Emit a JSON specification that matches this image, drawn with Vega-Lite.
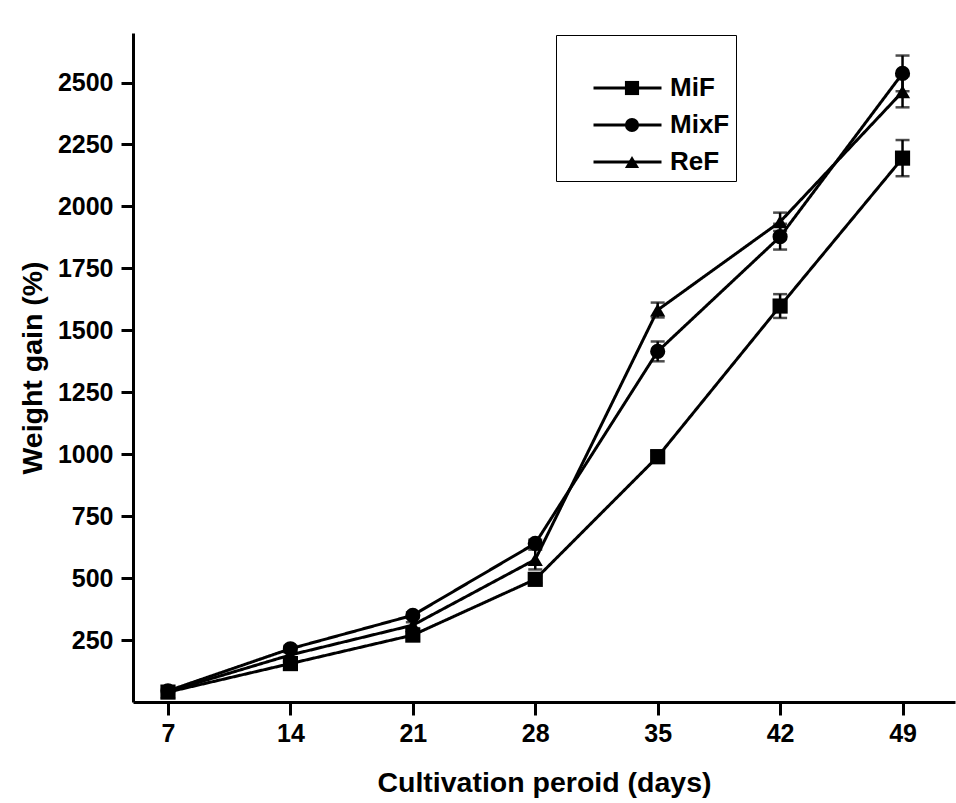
{
  "$schema": "https://vega.github.io/schema/vega-lite/v6.json",
  "width": 822,
  "height": 669,
  "autosize": {"type": "none"},
  "padding": {"left": 133, "top": 33, "right": 1, "bottom": 101},
  "background": "white",
  "config": {
    "view": {"stroke": null},
    "font": "Liberation Sans",
    "axis": {
      "grid": false,
      "domainColor": "black",
      "domainWidth": 3,
      "tickColor": "black",
      "tickWidth": 3,
      "labelFont": "Liberation Sans",
      "labelFontWeight": "bold",
      "labelColor": "black",
      "labelFontSize": 25,
      "titleFont": "Liberation Sans",
      "titleFontWeight": "bold",
      "titleColor": "black",
      "titleFontSize": 28.5
    }
  },
  "data": {
    "values": [
      {"day": 7, "group": "MiF", "gain": 40, "lo": 35, "hi": 45},
      {"day": 7, "group": "MixF", "gain": 45, "lo": 40, "hi": 50},
      {"day": 7, "group": "ReF", "gain": 42, "lo": 37, "hi": 47},
      {"day": 14, "group": "MiF", "gain": 155, "lo": 145, "hi": 165},
      {"day": 14, "group": "MixF", "gain": 215, "lo": 203, "hi": 227},
      {"day": 14, "group": "ReF", "gain": 190, "lo": 180, "hi": 200},
      {"day": 21, "group": "MiF", "gain": 270, "lo": 258, "hi": 282},
      {"day": 21, "group": "MixF", "gain": 350, "lo": 338, "hi": 362},
      {"day": 21, "group": "ReF", "gain": 310, "lo": 298, "hi": 322},
      {"day": 28, "group": "MiF", "gain": 495, "lo": 480, "hi": 510},
      {"day": 28, "group": "MixF", "gain": 640, "lo": 625, "hi": 655},
      {"day": 28, "group": "ReF", "gain": 575, "lo": 535, "hi": 615},
      {"day": 35, "group": "MiF", "gain": 990, "lo": 965, "hi": 1015},
      {"day": 35, "group": "MixF", "gain": 1415, "lo": 1375, "hi": 1455},
      {"day": 35, "group": "ReF", "gain": 1582, "lo": 1552, "hi": 1612},
      {"day": 42, "group": "MiF", "gain": 1598, "lo": 1550, "hi": 1646},
      {"day": 42, "group": "MixF", "gain": 1878, "lo": 1826, "hi": 1930},
      {"day": 42, "group": "ReF", "gain": 1938, "lo": 1901, "hi": 1975},
      {"day": 49, "group": "MiF", "gain": 2195, "lo": 2122, "hi": 2268},
      {"day": 49, "group": "MixF", "gain": 2537, "lo": 2465, "hi": 2609},
      {"day": 49, "group": "ReF", "gain": 2463, "lo": 2400, "hi": 2526}
    ]
  },
  "encoding": {
    "x": {
      "field": "day",
      "type": "quantitative",
      "scale": {"domain": [5, 52], "nice": false, "zero": false},
      "axis": {
        "values": [7, 14, 21, 28, 35, 42, 49],
        "format": "d",
        "tickSize": 13,
        "labelPadding": 6,
        "titlePadding": 22,
        "title": "Cultivation peroid (days)"
      }
    }
  },
  "layer": [
    {
      "mark": {
        "type": "errorbar",
        "ticks": {"size": 14, "thickness": 2.5, "color": "black"},
        "rule": {"strokeWidth": 2.5, "color": "black"}
      },
      "encoding": {
        "y": {
          "field": "lo",
          "type": "quantitative",
          "scale": {"domain": [0, 2700], "nice": false},
          "title": "Weight gain (%)"
        },
        "y2": {"field": "hi"},
        "detail": {"field": "group"}
      }
    },
    {
      "mark": {"type": "line", "color": "black", "strokeWidth": 3},
      "encoding": {
        "y": {
          "field": "gain",
          "type": "quantitative",
          "scale": {"domain": [0, 2700], "nice": false},
          "axis": {
            "values": [250, 500, 750, 1000, 1250, 1500, 1750, 2000, 2250, 2500],
            "format": "d",
            "tickSize": 12,
            "labelPadding": 8,
            "titlePadding": 10
          },
          "title": "Weight gain (%)"
        },
        "strokeDash": {
          "field": "group",
          "type": "nominal",
          "scale": {"domain": ["MiF", "MixF", "ReF"], "range": [[1, 0], [1, 0], [1, 0]]},
          "legend": {
            "orient": "none",
            "legendX": 423,
            "legendY": 2,
            "title": "\u00a0\u00a0\u00a0\u00a0\u00a0\u00a0\u00a0\u00a0\u00a0\u00a0\u00a0\u00a0\u00a0\u00a0\u00a0\u00a0\u00a0\u00a0\u00a0\u00a0\u00a0\u00a0\u00a0\u00a0\u00a0\u00a0\u00a0\u00a0\u00a0\u00a0\u00a0\u00a0\u00a0\u00a0",
            "titleFontSize": 20,
            "titlePadding": 14,
            "titleLimit": 400,
            "padding": 6,
            "strokeColor": "black",
            "symbolType": "stroke",
            "symbolSize": 4624,
            "symbolStrokeWidth": 3,
            "symbolStrokeColor": "black",
            "labelFont": "Liberation Sans",
            "labelFontSize": 26,
            "labelFontWeight": "bold",
            "labelColor": "black",
            "labelOffset": 7,
            "symbolOffset": 30,
            "rowPadding": 11,
            "clipHeight": 26
          }
        }
      }
    },
    {
      "mark": {"type": "point", "filled": true, "color": "black", "opacity": 1, "size": 230},
      "encoding": {
        "y": {"field": "gain", "type": "quantitative", "title": "Weight gain (%)"},
        "shape": {
          "field": "group",
          "type": "nominal",
          "scale": {"range": ["square", "circle", "triangle-up"]},
          "legend": {
            "orient": "none",
            "legendX": 423,
            "legendY": 2,
            "title": "\u00a0\u00a0\u00a0\u00a0\u00a0\u00a0\u00a0\u00a0\u00a0\u00a0\u00a0\u00a0\u00a0\u00a0\u00a0\u00a0\u00a0\u00a0\u00a0\u00a0\u00a0\u00a0\u00a0\u00a0\u00a0\u00a0\u00a0\u00a0\u00a0\u00a0\u00a0\u00a0\u00a0\u00a0",
            "titleFontSize": 20,
            "titlePadding": 14,
            "titleLimit": 400,
            "padding": 6,
            "symbolSize": 200,
            "symbolFillColor": "black",
            "symbolStrokeColor": "black",
            "symbolStrokeWidth": 0,
            "labelExpr": "'\u00a0'",
            "labelFontSize": 26,
            "labelFontWeight": "bold",
            "labelOpacity": 0,
            "labelOffset": 7,
            "symbolOffset": 57,
            "rowPadding": 11,
            "clipHeight": 26
          }
        }
      }
    }
  ]
}
